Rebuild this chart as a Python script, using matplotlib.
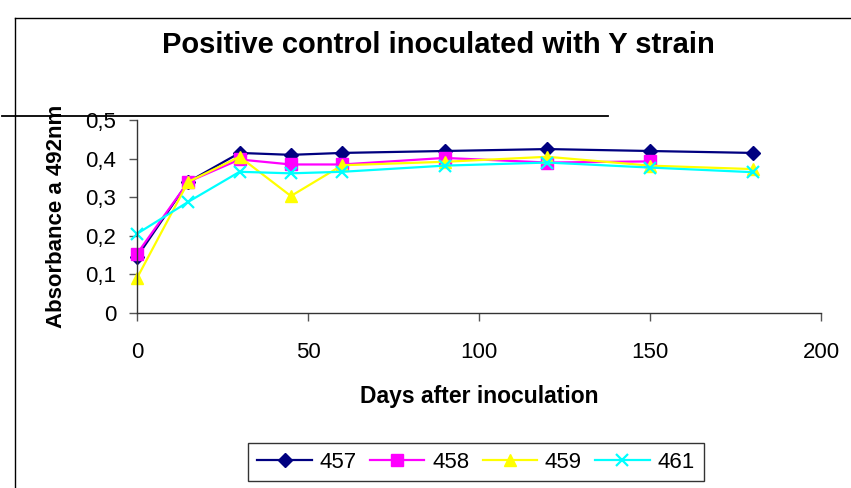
import numpy as np
import matplotlib
matplotlib.use('Agg')
import matplotlib.pyplot as plt
from matplotlib.lines import Line2D
from matplotlib.ticker import FuncFormatter

# Data (458 has no reading on day 180)
#-----------------------------------------------------------------------------#
days     = [0, 15, 30, 45, 60, 90, 120, 150, 180]
abs_457  = [0.145, 0.340, 0.415, 0.410, 0.415, 0.420, 0.425, 0.420, 0.415]
abs_458  = [0.153, 0.340, 0.398, 0.385, 0.385, 0.402, 0.390, 0.393, np.nan]
abs_459  = [0.090, 0.340, 0.405, 0.303, 0.383, 0.392, 0.405, 0.382, 0.373]
abs_461  = [0.205, 0.288, 0.366, 0.362, 0.366, 0.382, 0.390, 0.377, 0.365]
labels   = ['457', '458', '459', '461']
x_ticks  = [0, 50, 100, 150, 200]
y_ticks  = [0, 0.1, 0.2, 0.3, 0.4, 0.5]

plt.rcParams['font.family'] = ['Liberation Sans', 'DejaVu Sans']

# Figure and axes
#-----------------------------------------------------------------------------#
fig = plt.figure(figsize=(8.51, 4.88), dpi=100)
ax  = fig.add_axes([137/851, 1-312.7/488, (821-137)/851, (312.7-120.2)/488])

ax.plot(days, abs_457, '-', color='#000080', linewidth=1.6, marker='D', markersize=7,
        label=labels[0], clip_on=False)
ax.plot(days, abs_458, '-', color='#FF00FF', linewidth=1.6, marker='s', markersize=8,
        label=labels[1], clip_on=False)
ax.plot(days, abs_459, '-', color='#FFFF00', linewidth=1.6, marker='^', markersize=9,
        label=labels[2], clip_on=False)
ax.plot(days, abs_461, '-', color='#00FFFF', linewidth=1.6, marker='x', markersize=9,
        markeredgewidth=1.6, label=labels[3], clip_on=False)

ax.set_xlim(0, 200)
ax.set_ylim(0, 0.5)
ax.set_xticks(x_ticks)
ax.set_yticks(y_ticks)
ax.yaxis.set_major_formatter(FuncFormatter(lambda v, p: ('%g' % round(v, 2)).replace('.', ',')))
ax.tick_params(axis='both', labelsize=16, length=6, width=1, color='#555555', pad=9)
ax.tick_params(axis='x', pad=15)
for s in ['top', 'right']:
    ax.spines[s].set_visible(False)
for s in ['left', 'bottom']:
    ax.spines[s].set_color('#333333')
    ax.spines[s].set_linewidth(1)

ax.set_xlabel('Days after inoculation', fontsize=16.5, fontweight='bold', labelpad=16)
ax.set_ylabel('Absorbance a 492nm', fontsize=16, fontweight='bold', labelpad=13)
fig.text(438/851, 1-45/488, 'Positive control inoculated with Y strain',
         fontsize=21, fontweight='bold', ha='center', va='center')

leg = ax.legend(loc='center', bbox_to_anchor=(476/851, 1-462/488), bbox_transform=fig.transFigure,
                ncol=4, fontsize=16, frameon=True, fancybox=False, edgecolor='black',
                handlelength=2.45, columnspacing=0.6, handletextpad=0.35, borderpad=0.4)
leg.get_frame().set_linewidth(1)

# Frame lines around the chart area
#-----------------------------------------------------------------------------#
fig.add_artist(Line2D([15/851, 15/851], [0, 1-18/488], color='black', linewidth=1))
fig.add_artist(Line2D([15/851, 1], [1-18/488, 1-18/488], color='black', linewidth=1))
fig.add_artist(Line2D([2/851, 608/851], [1-116/488, 1-116/488], color='black', linewidth=1.3))

fig.savefig('out.png', dpi=100)
